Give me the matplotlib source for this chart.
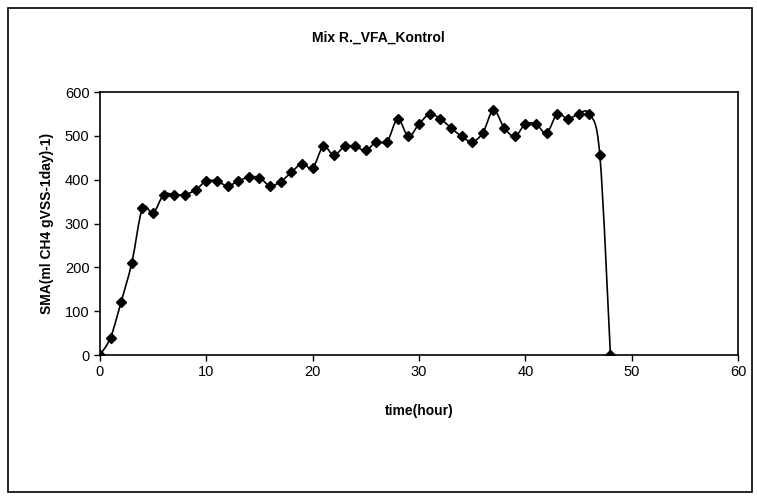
import matplotlib.pyplot as plt
import numpy as np
from matplotlib.path import Path
from matplotlib.patches import PathPatch, Rectangle

plt.rcParams['font.family'] = ['Liberation Sans', 'DejaVu Sans']

# time in hours and SMA values
hours = list(range(0, 49))
sma = [0, 40, 122, 211, 335, 324, 366, 366, 366, 377,
       397, 397, 386, 397, 406, 405, 386, 396, 417, 437,
       427, 476, 456, 476, 476, 467, 487, 487, 539, 499,
       527, 550, 539, 519, 499, 487, 507, 559, 519, 499,
       527, 527, 507, 550, 539, 550, 550, 457, 0]


def smooth_path(x, y, t=1/6):
    # cardinal spline as cubic bezier segments (like excel's smoothed line)
    x = np.asarray(x, float)
    y = np.asarray(y, float)
    n = len(x)
    verts = [(x[0], y[0])]
    codes = [Path.MOVETO]
    for i in range(n - 1):
        i0 = max(i - 1, 0)
        i3 = min(i + 2, n - 1)
        c1 = (x[i] + (x[i + 1] - x[i0]) * t, y[i] + (y[i + 1] - y[i0]) * t)
        c2 = (x[i + 1] - (x[i3] - x[i]) * t, y[i + 1] - (y[i3] - y[i]) * t)
        verts += [c1, c2, (x[i + 1], y[i + 1])]
        codes += [Path.CURVE4] * 3
    return Path(verts, codes)


fig = plt.figure(figsize=(7.57, 4.98), dpi=100)
ax = fig.add_axes([0.132, 0.287, 0.843, 0.528])

ax.add_patch(PathPatch(smooth_path(hours, sma), fill=False, color='black', lw=1.2))
ax.plot(hours, sma, ls='none', marker='D', ms=5.5, color='black')

ax.set_xlim(0, 60)
ax.set_ylim(0, 600)
ax.set_xticks(range(0, 61, 10))
ax.set_yticks(range(0, 601, 100))
ax.tick_params(direction='out', length=4, labelsize=10.5, width=1)
for s in ax.spines.values():
    s.set_linewidth(1.2)

ax.set_xlabel('time(hour)', fontsize=10, fontweight='bold', labelpad=18)
ax.set_ylabel('SMA(ml CH4 gVSS-1day)-1)', fontsize=10, fontweight='bold', labelpad=8)
fig.text(0.5, 0.925, 'Mix R._VFA_Kontrol', ha='center', va='center',
         fontsize=10, fontweight='bold')

fig.patches.append(Rectangle((0.011, 0.012), 0.982, 0.972, transform=fig.transFigure,
                             fill=False, edgecolor='black', lw=1.2))

fig.savefig('out.png', dpi=100)
